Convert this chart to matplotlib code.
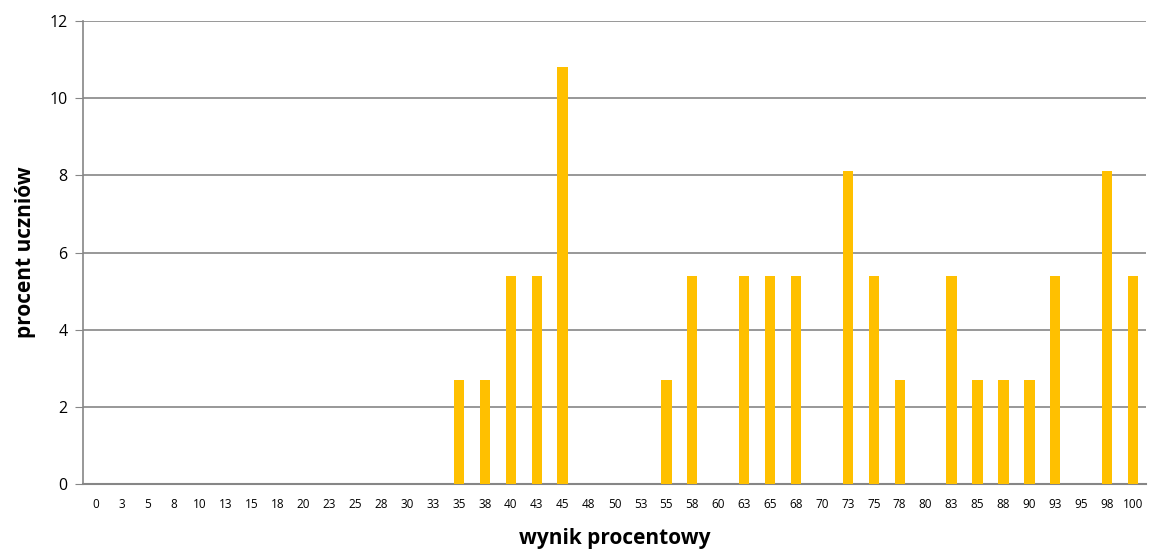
import matplotlib
matplotlib.use("Agg")
import matplotlib.pyplot as plt
import numpy as np

plt.rcParams['font.family'] = ['Open Sans', 'DejaVu Sans']

# wynik procentowy (categories) and procent uczniów
scores = ['0', '3', '5', '8', '10', '13', '15', '18', '20', '23', '25', '28', '30', '33',
          '35', '38', '40', '43', '45', '48', '50', '53', '55', '58', '60', '63', '65',
          '68', '70', '73', '75', '78', '80', '83', '85', '88', '90', '93', '95', '98', '100']
percent = [0, 0, 0, 0, 0, 0, 0, 0, 0, 0, 0, 0, 0, 0,
           2.7, 2.7, 5.4, 5.4, 10.8, 0, 0, 0, 2.7, 5.4, 0, 5.4, 5.4,
           5.4, 0, 8.1, 5.4, 2.7, 0, 5.4, 2.7, 2.7, 2.7, 5.4, 0, 8.1, 5.4]

grid_col = '#868686'

fig = plt.figure(figsize=(11.49, 5.51), dpi=100)
ax = fig.add_axes([83 / 1149, 1 - 484 / 551, 1063 / 1149, 463 / 551])

x = np.arange(len(scores))
ax.bar(x, percent, width=0.4, color='#FFC000', zorder=3)

ax.set_xlim(-0.5, len(scores) - 0.5)
ax.set_ylim(0, 12)
ax.set_yticks(range(0, 13, 2))
ax.set_xticks(x)
ax.set_xticklabels(scores, fontsize=8.5)
ax.tick_params(axis='x', length=0, pad=10)
ax.tick_params(axis='y', length=6, color=grid_col, labelsize=11.5, pad=5)

ax.yaxis.grid(True, color=grid_col, linewidth=1.2, zorder=0)
for side in ['top', 'right']:
    ax.spines[side].set_visible(False)
ax.spines['left'].set_color(grid_col)
ax.spines['bottom'].set_color(grid_col)
ax.spines['left'].set_linewidth(1.2)
ax.spines['bottom'].set_linewidth(1.5)

ax.set_xlabel('wynik procentowy', fontsize=15, fontweight='bold', labelpad=12)
ax.set_ylabel('procent uczniów', fontsize=15, fontweight='bold', labelpad=10)

fig.savefig('out.png', dpi=100)
